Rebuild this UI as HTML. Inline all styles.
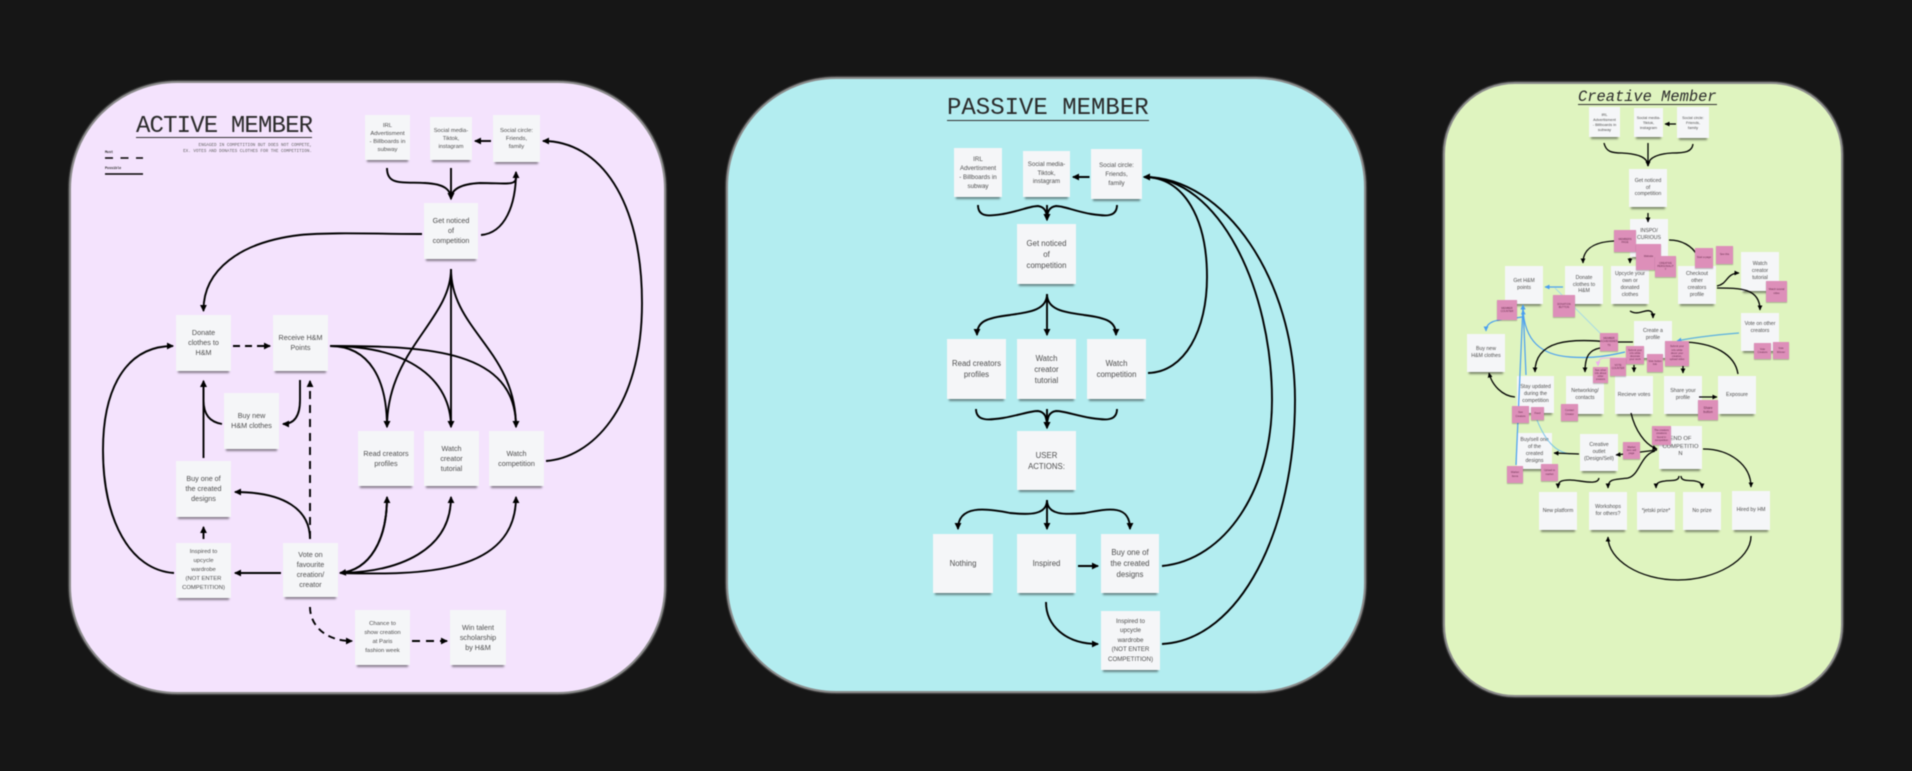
<!DOCTYPE html>
<html><head><meta charset="utf-8"><title>Member journeys</title>
<style>
html,body{margin:0;padding:0;background:#161616;width:1912px;height:771px;overflow:hidden}
#w{position:relative;width:1912px;height:771px;filter:blur(.55px);font-family:"Liberation Sans",sans-serif}
.p{position:absolute;box-sizing:border-box;border:2px solid #8b8b8b;box-shadow:0 0 1px 1px #444}
.n,.k{position:absolute;box-sizing:border-box;display:flex;align-items:center;justify-content:center;text-align:center;color:#4f4f4f}
.n{background:#f5f6f8;box-shadow:0 4px 2px -2px rgba(0,0,0,.45)}
.a{font-size:7.2px;line-height:10px}.s{font-size:5.9px;line-height:8px}.x{font-size:5.7px;line-height:8px}
.b{font-size:7.8px;line-height:11px}.t{font-size:6.2px;line-height:9px}
.c{font-size:5.2px;line-height:6.8px}.d{font-size:3.9px;line-height:5.2px}
.k{background:#dd8fb9;box-shadow:0 1px 1px rgba(0,0,0,.25);color:#6a3050;font-size:2.6px;line-height:3.2px;z-index:3}
.h{position:absolute;font-family:"Liberation Mono",monospace;color:#2b2b2b;white-space:nowrap;transform-origin:0 0}
svg{position:absolute;left:0;top:0;z-index:2}
</style></head><body><div id="w">
<div class="p" style="left:69px;top:81px;width:597px;height:613px;background:#f4e3fd;border-radius:108px"></div>
<div class="p" style="left:726px;top:77px;width:640px;height:616px;background:#b3edf0;border-radius:110px"></div>
<div class="p" style="left:1443px;top:82px;width:400px;height:615px;background:#dff4bf;border-radius:72px"></div>

<div class="h" style="left:136px;top:116px;font-size:24px;line-height:21px;letter-spacing:-.85px;border-bottom:1.5px solid #333;width:176px">ACTIVE MEMBER</div>
<div class="h" style="left:180px;top:143px;width:132px;text-align:right;font-size:4.3px;line-height:6px;color:#666">ENGAGED IN COMPETITION BUT DOES NOT COMPETE,<br>EX. VOTES AND DONATES CLOTHES FOR THE COMPETITION.</div>
<div class="h" style="left:105px;top:151px;font-size:3.4px;line-height:4px;font-weight:bold">Must</div>
<div class="h" style="left:105px;top:167px;font-size:3.4px;line-height:4px;font-weight:bold">Possible</div>
<div class="h" style="left:947px;top:98px;font-size:24px;line-height:22px;letter-spacing:0;border-bottom:1.5px solid #333;width:202px">PASSIVE MEMBER</div>
<div class="h" style="left:1578px;top:90px;font-size:15.4px;line-height:14px;font-style:italic;border-bottom:1px solid #333;width:139px">Creative Member</div>

<!-- Active notes -->
<div class="n s" style="left:365px;top:115px;width:45px;height:45px">IRL<br>Advertisment<br>- Billboards in<br>subway</div>
<div class="n x" style="left:430px;top:117px;width:42px;height:43px">Social media-<br>Tiktok,<br>instagram</div>
<div class="n s" style="left:493px;top:115px;width:47px;height:47px">Social circle:<br>Friends,<br>family</div>
<div class="n a" style="left:424px;top:203px;width:54px;height:56px">Get noticed<br>of<br>competition</div>
<div class="n a" style="left:176px;top:315px;width:55px;height:56px">Donate<br>clothes to<br>H&amp;M</div>
<div class="n a" style="left:273px;top:315px;width:55px;height:56px">Receive H&amp;M<br>Points</div>
<div class="n a" style="left:224px;top:393px;width:55px;height:56px">Buy new<br>H&amp;M clothes</div>
<div class="n a" style="left:176px;top:461px;width:55px;height:56px">Buy one of<br>the created<br>designs</div>
<div class="n s" style="left:176px;top:543px;width:55px;height:55px;line-height:9px">Inspired to<br>upcycle<br>wardrobe<br>(NOT ENTER<br>COMPETITION)</div>
<div class="n a" style="left:283px;top:543px;width:55px;height:54px">Vote on<br>favourite<br>creation/<br>creator</div>
<div class="n a" style="left:358px;top:431px;width:56px;height:55px">Read creators<br>profiles</div>
<div class="n a" style="left:424px;top:431px;width:55px;height:55px">Watch<br>creator<br>tutorial</div>
<div class="n a" style="left:489px;top:431px;width:55px;height:55px">Watch<br>competition</div>
<div class="n s" style="left:355px;top:610px;width:55px;height:55px;line-height:9px">Chance to<br>show creation<br>at Paris<br>fashion week</div>
<div class="n a" style="left:450px;top:610px;width:56px;height:55px">Win talent<br>scholarship<br>by H&amp;M</div>

<!-- Passive notes -->
<div class="n t" style="left:954px;top:148px;width:48px;height:49px">IRL<br>Advertisment<br>- Billboards in<br>subway</div>
<div class="n t" style="left:1023px;top:151px;width:47px;height:46px;line-height:8.5px">Social media-<br>Tiktok,<br>instagram</div>
<div class="n t" style="left:1091px;top:149px;width:51px;height:50px">Social circle:<br>Friends,<br>family</div>
<div class="n b" style="left:1017px;top:224px;width:59px;height:60px">Get noticed<br>of<br>competition</div>
<div class="n b" style="left:947px;top:339px;width:59px;height:60px">Read creators<br>profiles</div>
<div class="n b" style="left:1017px;top:339px;width:59px;height:60px">Watch<br>creator<br>tutorial</div>
<div class="n b" style="left:1087px;top:339px;width:59px;height:60px">Watch<br>competition</div>
<div class="n b" style="left:1017px;top:431px;width:59px;height:59px">USER<br>ACTIONS:</div>
<div class="n b" style="left:933px;top:534px;width:60px;height:59px">Nothing</div>
<div class="n b" style="left:1017px;top:534px;width:59px;height:59px">Inspired</div>
<div class="n b" style="left:1101px;top:534px;width:58px;height:59px">Buy one of<br>the created<br>designs</div>
<div class="n t" style="left:1101px;top:611px;width:59px;height:59px;line-height:9.6px">Inspired to<br>upcycle<br>wardrobe<br>(NOT ENTER<br>COMPETITION)</div>

<!-- Creative notes -->
<div class="n d" style="left:1589px;top:107px;width:31px;height:30px">IRL<br>Advertisment<br>- Billboards in<br>subway</div>
<div class="n d" style="left:1634px;top:108px;width:29px;height:29px">Social media-<br>Tiktok,<br>instagram</div>
<div class="n d" style="left:1677px;top:107px;width:32px;height:31px">Social circle:<br>Friends,<br>family</div>
<div class="n c" style="left:1629px;top:169px;width:38px;height:38px">Get noticed<br>of<br>competition</div>
<div class="n c" style="left:1630px;top:219px;width:38px;height:38px;padding-bottom:6px">INSPO/<br>CURIOUS</div>
<div class="n c" style="left:1505px;top:266px;width:38px;height:38px">Get H&amp;M<br>points</div>
<div class="n c" style="left:1565px;top:266px;width:38px;height:38px">Donate<br>clothes to<br>H&amp;M</div>
<div class="n c" style="left:1611px;top:266px;width:38px;height:38px">Upcycle your<br>own or<br>donated<br>clothes</div>
<div class="n c" style="left:1678px;top:266px;width:38px;height:38px">Checkout<br>other<br>creators<br>profile</div>
<div class="n c" style="left:1741px;top:252px;width:38px;height:39px">Watch<br>creator<br>tutorial</div>
<div class="n c" style="left:1741px;top:313px;width:38px;height:38px;padding-bottom:8px">Vote on other<br>creators</div>
<div class="n c" style="left:1634px;top:321px;width:38px;height:37px;padding-bottom:10px">Create a<br>profile</div>
<div class="n c" style="left:1467px;top:334px;width:38px;height:38px">Buy new<br>H&amp;M clothes</div>
<div class="n c" style="left:1517px;top:376px;width:37px;height:37px">Stay updated<br>during the<br>competition</div>
<div class="n c" style="left:1566px;top:376px;width:38px;height:38px">Networking/<br>contacts</div>
<div class="n c" style="left:1615px;top:376px;width:38px;height:38px">Recieve votes</div>
<div class="n c" style="left:1664px;top:376px;width:38px;height:38px">Share your<br>profile</div>
<div class="n c" style="left:1718px;top:376px;width:38px;height:38px">Exposure</div>
<div class="n c" style="left:1517px;top:433px;width:35px;height:36px">Buy/sell one<br>of the<br>created<br>designs</div>
<div class="n c" style="left:1580px;top:434px;width:38px;height:37px">Creative<br>outlet<br>(Design/Sell)</div>
<div class="n c" style="left:1659px;top:426px;width:43px;height:43px;font-size:5.8px;line-height:7.5px">END OF<br>COMPETITIO<br>N</div>
<div class="n c" style="left:1539px;top:492px;width:38px;height:38px">New platform</div>
<div class="n c" style="left:1589px;top:492px;width:38px;height:38px">Workshops<br>for others?</div>
<div class="n c" style="left:1637px;top:492px;width:38px;height:38px">*jetski prize*</div>
<div class="n c" style="left:1683px;top:492px;width:38px;height:38px">No prize</div>
<div class="n c" style="left:1732px;top:491px;width:38px;height:39px">Hired by HM</div>

<svg width="1912" height="771" viewBox="0 0 1912 771" fill="none" stroke="#000" stroke-width="1.9">
<defs>
<marker id="a" markerUnits="userSpaceOnUse" markerWidth="8" markerHeight="8" refX="6" refY="4" orient="auto"><path d="M0 .6L7 4L0 7.4Z" fill="#000" stroke="none"/></marker>
<marker id="m" markerUnits="userSpaceOnUse" markerWidth="6" markerHeight="6" refX="4.5" refY="3" orient="auto"><path d="M0 .6L5 3L0 5.4Z" fill="#000" stroke="none"/></marker>
<marker id="u" markerUnits="userSpaceOnUse" markerWidth="6" markerHeight="6" refX="4.5" refY="3" orient="auto"><path d="M0 .6L5 3L0 5.4Z" fill="#4a9ff0" stroke="none"/></marker>
<marker id="q" markerUnits="userSpaceOnUse" markerWidth="6" markerHeight="6" refX="4.5" refY="3" orient="auto"><path d="M0 .6L5 3L0 5.4Z" fill="#efb1ef" stroke="none"/></marker>
</defs>
<!-- Legend -->
<path d="M105 158H143" stroke-width="1.6" stroke-dasharray="8 7.5"/>
<path d="M105 174H143" stroke-width="1.6"/>

<!-- Active connectors -->
<g marker-end="url(#a)">
<path d="M491 141H475"/>
<path d="M387 168C387 185 400 182 425 183C445 184 451 190 451 199"/>
<path d="M451 168V199"/>
<path d="M516 178C516 186 505 183 480 183C460 184 451 190 451 199"/>
<path d="M481 235C505 233 516 205 516 172"/>
<path d="M422 234C380 234 330 232 300 235C240 242 203 270 203.500 311"/>
<path d="M451 269C451 320 387 350 387 427"/>
<path d="M451 269V427"/>
<path d="M451 269C451 330 516 350 516 427"/>
<path d="M330 346C370 346 387 380 387 427"/>
<path d="M330 346C410 346 451 380 451 427"/>
<path d="M330 346C430 346 516 350 516 427"/>
<path d="M300 380V400C300 415 295 424 283 424"/>
<path d="M222 424C210 422 203.500 415 203.500 400V381"/>
<path d="M203.500 458V381"/>
<path d="M203.500 539V527"/>
<path d="M174 573C130 570 103 520 103 450C103 390 125 346 173 346"/>
<path d="M310 539C310 510 285 492 235 492"/>
<path d="M281 573H235"/>
<path d="M340 573C370 570 387 540 387 497"/>
<path d="M340 573C400 572 451 550 451 497"/>
<path d="M340 573C420 575 516 575 516 497"/>
<path d="M387 497C387 540 370 570 340 573"/>
<path d="M546 461C590 458 642 410 642 303C642 200 600 141 543 141"/>
<path d="M310 539V381" stroke-dasharray="8 6"/>
<path d="M310 607C310 625 325 641 352 641" stroke-dasharray="7 5"/>
<path d="M412 641H447" stroke-dasharray="8 6"/>
<path d="M233 346H270" stroke-dasharray="7 5"/>
</g>

<!-- Passive connectors -->
<g marker-end="url(#a)">
<path d="M1089.500 177H1073"/>
<path d="M978 205C978 218 990 216 1003 214C1020 211 1030 206 1038 206C1045 207 1047 212 1047 220"/>
<path d="M1117 205C1117 218 1104 216 1091 214C1074 211 1064 206 1056 206C1049 207 1047 212 1047 220"/>
<path d="M1047 205V220"/>
<path d="M1047 294C1047 310 1030 312 1010 315C985 318 977 322 977 335"/>
<path d="M1047 294C1047 310 1064 312 1084 315C1108 318 1116 322 1116 335"/>
<path d="M1047 294V335"/>
<path d="M976 409C976 422 990 420 1003 418C1020 415 1030 411 1038 411C1045 412 1047 417 1047 428"/>
<path d="M1117 409C1117 422 1104 420 1091 418C1074 415 1064 411 1056 411C1049 412 1047 417 1047 428"/>
<path d="M1047 409V428"/>
<path d="M1047 500C1047 515 1030 515 1010 513C985 508 958 505 958 529"/>
<path d="M1047 500C1047 515 1064 515 1085 513C1110 508 1130 505 1130 529"/>
<path d="M1047 500V529"/>
<path d="M1078 566H1098"/>
<path d="M1046 602C1046 625 1065 644 1098 644"/>
<path d="M1148 373C1185 372 1207 330 1207 277C1207 220 1185 177 1144 177"/>
<path d="M1162 566C1225 560 1272 490 1272 400C1272 290 1220 177 1144 177"/>
<path d="M1162 644C1240 640 1295 530 1295 400C1295 280 1225 177 1144 177"/>
</g>

<!-- Creative connectors -->
<g stroke="#a9dbe6" stroke-width="1">
<path d="M1555 288L1610 343"/>
<path d="M1537 420C1545 440 1555 452 1570 454" stroke="#76c3e8"/>
</g>
<g stroke="#4a9ff0" stroke-width="1.2" marker-end="url(#u)">
<path d="M1563 287H1545"/>
<path d="M1526 375L1523 305"/>
<path d="M1516 465L1523 305"/>
<path d="M1522 317C1505 320 1486 318 1486 331"/>
<path d="M1625 352C1600 358 1585 358 1570 357C1540 355 1525 340 1523 310"/>
<path d="M1739 333C1715 335 1695 337 1677 341" stroke="#5ab0e0"/>
</g>
<path d="M1640 358H1604C1600 358 1598 361 1598 366" stroke="#efb1ef" stroke-width="1" marker-end="url(#q)"/>
<g stroke-width="1.3" marker-end="url(#m)">
<path d="M1676 124H1665"/>
<path d="M1604 143C1606 152 1612 153 1622 153C1640 154 1648 158 1648 166"/>
<path d="M1693 144C1692 152 1685 153 1672 153C1656 154 1648 158 1648 166"/>
<path d="M1648 143V166"/>
<path d="M1648 213V222"/>
<path d="M1614 241C1595 242 1583 248 1583 263"/>
<path d="M1630 258V263"/>
<path d="M1717 286C1728 284 1726 273 1739 273"/>
<path d="M1717 288C1740 288 1760 288 1760 310"/>
<path d="M1630 311C1638 316 1645 309 1650 311C1653 312 1653 315 1653 318"/>
<path d="M1633 342H1610C1570 338 1535 340 1535 372"/>
<path d="M1600 348C1590 350 1585 355 1585 372"/>
<path d="M1634 365V372"/>
<path d="M1683 366V373"/>
<path d="M1699 397H1717"/>
<path d="M1515 397C1502 396 1492 385 1489 373"/>
<path d="M1631 413C1635 430 1645 445 1657 449"/>
<path d="M1657 450L1616 455"/>
<path d="M1579 454L1554 453"/>
<path d="M1655 451C1640 455 1640 475 1628 478C1615 480 1608 478 1608 488"/>
<path d="M1599 478C1598 486 1580 480 1570 480C1560 480 1558 482 1558 488"/>
<path d="M1679 476C1679 482 1670 480 1665 481C1658 482 1656 483 1656 488"/>
<path d="M1681 476C1681 482 1690 480 1695 481C1700 482 1702 483 1702 488"/>
<path d="M1703 449C1730 449 1751 465 1751 487"/>
<path d="M1751 536C1751 560 1715 580 1678 580C1640 580 1608 560 1608 537"/>
</g>
<g stroke-width="1.3">
<path d="M1669 240C1682 240 1692 246 1697 255"/>
<path d="M1738 374C1735 355 1715 342 1680 342"/>
</g>
</svg>

<!-- Pink notes -->
<div class="k" style="left:1614px;top:230px;width:22px;height:22px">MEMBERS<br>PAGE</div>
<div class="k" style="left:1636px;top:244px;width:25px;height:26px">Website</div>
<div class="k" style="left:1655px;top:256px;width:21px;height:21px">CREATIVE<br>PERSONALIT<br>Y</div>
<div class="k" style="left:1695px;top:248px;width:18px;height:20px">Start a page</div>
<div class="k" style="left:1716px;top:246px;width:17px;height:18px">See this</div>
<div class="k" style="left:1766px;top:281px;width:21px;height:21px">Watch tutorial<br>video</div>
<div class="k" style="left:1497px;top:300px;width:20px;height:20px">MEMBER<br>COUNTER</div>
<div class="k" style="left:1553px;top:295px;width:22px;height:22px">DONATION<br>BUTTON</div>
<div class="k" style="left:1600px;top:333px;width:18px;height:18px">MEMBER<br>ACHIEVEMEN<br>TS</div>
<div class="k" style="left:1626px;top:346px;width:18px;height:18px">Submit your<br>info while<br>decorate<br>your work</div>
<div class="k" style="left:1610px;top:358px;width:16px;height:18px">VOTE<br>COUNTER</div>
<div class="k" style="left:1593px;top:367px;width:15px;height:16px">See other<br>info about<br>other<br>creators</div>
<div class="k" style="left:1647px;top:354px;width:16px;height:18px">Vote button<br>link</div>
<div class="k" style="left:1665px;top:341px;width:24px;height:25px">Submit your<br>info while<br>decor your<br>creation,<br>upload video</div>
<div class="k" style="left:1754px;top:343px;width:17px;height:16px">Vote<br>Creators</div>
<div class="k" style="left:1773px;top:342px;width:16px;height:17px">Vote<br>Winner</div>
<div class="k" style="left:1698px;top:400px;width:20px;height:20px;font-size:3.4px;line-height:4.4px">Share<br>button</div>
<div class="k" style="left:1512px;top:406px;width:17px;height:17px">See<br>Creators</div>
<div class="k" style="left:1531px;top:407px;width:13px;height:13px">Feed</div>
<div class="k" style="left:1561px;top:404px;width:17px;height:17px">Contact<br>Creator</div>
<div class="k" style="left:1507px;top:466px;width:16px;height:17px">Market<br>Items</div>
<div class="k" style="left:1541px;top:464px;width:17px;height:17px">Upload to<br>market</div>
<div class="k" style="left:1623px;top:442px;width:17px;height:17px">Market<br>item sell<br>page</div>
<div class="k" style="left:1652px;top:426px;width:19px;height:19px">The creators<br>creations<br>found in<br>competition</div>
</div></body></html>
